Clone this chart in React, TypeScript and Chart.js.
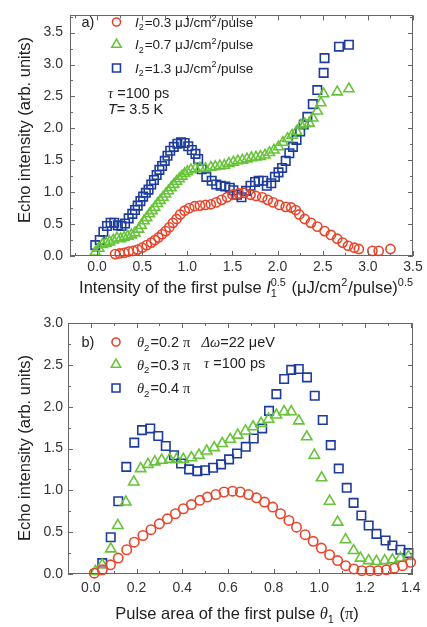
import React, { useEffect, useRef } from 'react';
import { Chart, registerables } from 'chart.js';

Chart.register(...registerables);

const SANS = "'Liberation Sans', Arial, Helvetica, sans-serif";
const SERIF = "'Liberation Serif', 'Times New Roman', serif";
const RED = '#e8462c';
const GREEN = '#67c43a';
const BLUE = '#1d3c9b';
const TEXT = '#222';

// ---------- Panel a: echo intensity vs I1^0.5 ----------
const aRedX = [0.20, 0.25, 0.30, 0.35, 0.40, 0.45, 0.50, 0.55, 0.60, 0.64, 0.68, 0.72, 0.76, 0.80, 0.84, 0.88, 0.92, 0.97, 1.02, 1.08, 1.14, 1.20, 1.26, 1.32, 1.38, 1.44, 1.50, 1.57, 1.63, 1.70, 1.76, 1.83, 1.89, 1.95, 2.02, 2.09, 2.15, 2.20, 2.24, 2.30, 2.37, 2.44, 2.52, 2.59, 2.66, 2.72, 2.78, 2.85, 2.90, 3.05, 3.12, 3.25];
const aRedY = [0.03, 0.04, 0.05, 0.07, 0.08, 0.10, 0.13, 0.17, 0.21, 0.25, 0.29, 0.34, 0.39, 0.45, 0.52, 0.58, 0.65, 0.71, 0.75, 0.78, 0.79, 0.80, 0.81, 0.84, 0.88, 0.92, 0.96, 0.98, 0.99, 0.96, 0.94, 0.92, 0.88, 0.84, 0.80, 0.77, 0.76, 0.72, 0.65, 0.58, 0.52, 0.46, 0.39, 0.33, 0.27, 0.21, 0.16, 0.13, 0.11, 0.08, 0.08, 0.11];

const aGreenX = [-0.02, 0.02, 0.06, 0.10, 0.14, 0.18, 0.22, 0.26, 0.30, 0.34, 0.38, 0.42, 0.46, 0.49, 0.52, 0.55, 0.58, 0.61, 0.64, 0.67, 0.70, 0.73, 0.76, 0.79, 0.82, 0.85, 0.88, 0.91, 0.94, 0.97, 1.00, 1.04, 1.09, 1.14, 1.20, 1.26, 1.31, 1.36, 1.41, 1.46, 1.51, 1.56, 1.61, 1.66, 1.71, 1.76, 1.81, 1.86, 1.91, 1.96, 2.01, 2.06, 2.11, 2.16, 2.21, 2.26, 2.30, 2.35, 2.39, 2.44, 2.48, 2.51, 2.66, 2.79];
const aGreenY = [0.06, 0.12, 0.18, 0.20, 0.22, 0.25, 0.28, 0.27, 0.29, 0.31, 0.33, 0.36, 0.42, 0.48, 0.55, 0.60, 0.66, 0.71, 0.76, 0.82, 0.87, 0.92, 0.97, 1.02, 1.07, 1.12, 1.17, 1.21, 1.25, 1.29, 1.32, 1.35, 1.37, 1.38, 1.37, 1.39, 1.40, 1.41, 1.42, 1.45, 1.47, 1.49, 1.50, 1.52, 1.54, 1.55, 1.56, 1.58, 1.62, 1.66, 1.71, 1.78, 1.84, 1.89, 1.95, 2.05, 2.07, 2.08, 2.16, 2.27, 2.40, 2.54, 2.57, 2.62];

const aBlueX = [-0.02, 0.03, 0.07, 0.11, 0.15, 0.19, 0.23, 0.27, 0.31, 0.35, 0.39, 0.42, 0.45, 0.48, 0.51, 0.54, 0.57, 0.60, 0.63, 0.66, 0.69, 0.72, 0.75, 0.78, 0.81, 0.85, 0.89, 0.93, 0.97, 1.01, 1.05, 1.09, 1.12, 1.16, 1.21, 1.27, 1.32, 1.37, 1.42, 1.47, 1.51, 1.55, 1.60, 1.65, 1.70, 1.75, 1.79, 1.84, 1.88, 1.93, 1.97, 2.01, 2.05, 2.09, 2.13, 2.17, 2.21, 2.25, 2.29, 2.33, 2.39, 2.44, 2.51, 2.52, 2.68, 2.79];
const aBlueY = [0.17, 0.25, 0.38, 0.47, 0.52, 0.52, 0.48, 0.47, 0.51, 0.59, 0.66, 0.72, 0.79, 0.86, 0.93, 0.99, 1.04, 1.12, 1.19, 1.27, 1.35, 1.41, 1.49, 1.57, 1.65, 1.71, 1.76, 1.78, 1.77, 1.72, 1.66, 1.60, 1.52, 1.36, 1.24, 1.18, 1.12, 1.10, 1.09, 1.07, 1.03, 0.96, 0.92, 1.02, 1.10, 1.16, 1.18, 1.18, 1.10, 1.14, 1.24, 1.31, 1.38, 1.49, 1.61, 1.71, 1.82, 1.95, 2.06, 2.18, 2.38, 2.60, 2.87, 3.10, 3.28, 3.31];

const aXTicks = [0, 0.5, 1.0, 1.5, 2.0, 2.5, 3.0, 3.5];
const aYTicks = [0, 0.5, 1.0, 1.5, 2.0, 2.5, 3.0, 3.5];

// ---------- Panel b: echo intensity vs pulse area theta1 ----------
const bRedX = [0.015, 0.05, 0.086, 0.12, 0.157, 0.19, 0.228, 0.263, 0.30, 0.335, 0.37, 0.405, 0.44, 0.477, 0.51, 0.547, 0.583, 0.62, 0.654, 0.69, 0.725, 0.76, 0.796, 0.83, 0.867, 0.90, 0.938, 0.973, 1.009, 1.045, 1.08, 1.115, 1.151, 1.186, 1.222, 1.257, 1.293, 1.328, 1.364, 1.40];
const bRedY = [0.01, 0.05, 0.11, 0.19, 0.29, 0.38, 0.46, 0.53, 0.60, 0.66, 0.72, 0.78, 0.83, 0.88, 0.92, 0.95, 0.98, 0.99, 0.98, 0.95, 0.91, 0.86, 0.80, 0.72, 0.64, 0.56, 0.47, 0.39, 0.31, 0.23, 0.16, 0.10, 0.06, 0.04, 0.04, 0.04, 0.05, 0.07, 0.10, 0.14];

const bGreenX = [0.02, 0.05, 0.087, 0.118, 0.153, 0.188, 0.218, 0.25, 0.28, 0.31, 0.345, 0.375, 0.405, 0.44, 0.473, 0.507, 0.54, 0.575, 0.61, 0.643, 0.677, 0.71, 0.745, 0.778, 0.812, 0.846, 0.877, 0.91, 0.945, 0.978, 1.01, 1.045, 1.08, 1.115, 1.15, 1.18, 1.216, 1.25, 1.286, 1.32, 1.355, 1.39];
const bGreenY = [0.03, 0.11, 0.30, 0.58, 0.86, 1.10, 1.26, 1.31, 1.34, 1.36, 1.37, 1.37, 1.37, 1.39, 1.42, 1.47, 1.51, 1.56, 1.61, 1.66, 1.71, 1.76, 1.80, 1.85, 1.90, 1.94, 1.94, 1.83, 1.64, 1.42, 1.15, 0.87, 0.62, 0.41, 0.28, 0.19, 0.16, 0.15, 0.16, 0.17, 0.19, 0.21];

const bBlueX = [0.05, 0.087, 0.12, 0.155, 0.19, 0.224, 0.26, 0.295, 0.328, 0.364, 0.395, 0.43, 0.466, 0.50, 0.535, 0.57, 0.605, 0.64, 0.678, 0.713, 0.75, 0.78, 0.812, 0.846, 0.877, 0.91, 0.946, 0.98, 1.015, 1.05, 1.085, 1.12, 1.15, 1.184, 1.216, 1.25, 1.29, 1.32, 1.355, 1.39];
const bBlueY = [0.13, 0.44, 0.87, 1.28, 1.57, 1.72, 1.74, 1.65, 1.53, 1.42, 1.32, 1.25, 1.23, 1.24, 1.27, 1.31, 1.37, 1.44, 1.52, 1.62, 1.74, 1.95, 2.15, 2.33, 2.44, 2.45, 2.35, 2.13, 1.84, 1.54, 1.26, 1.03, 0.85, 0.70, 0.58, 0.48, 0.40, 0.34, 0.29, 0.25];

const bXTicks = [0, 0.2, 0.4, 0.6, 0.8, 1.0, 1.2, 1.4];
const bYTicks = [0, 0.5, 1.0, 1.5, 2.0, 2.5, 3.0];

// ---------- helpers ----------
type Seg = { t?: string; it?: boolean; serif?: boolean; sub?: string; sup?: string };

const fontStr = (size: number, it?: boolean, serif?: boolean) =>
  `${it ? 'italic ' : ''}${size}px ${serif ? SERIF : SANS}`;

function drawRich(ctx: CanvasRenderingContext2D, segs: Seg[], x: number, yMid: number, size: number, align: 'left' | 'center') {
  const small = size * 0.66;
  const widths = segs.map((s) => {
    if (s.t !== undefined) {
      ctx.font = fontStr(size, s.it, s.serif);
      return ctx.measureText(s.t).width;
    }
    ctx.font = fontStr(small);
    return Math.max(s.sub ? ctx.measureText(s.sub).width : 0, s.sup ? ctx.measureText(s.sup).width : 0) + 1;
  });
  const total = widths.reduce((a, b) => a + b, 0);
  let cx = align === 'center' ? x - total / 2 : x;
  const base = yMid + size * 0.36;
  ctx.textAlign = 'left';
  ctx.textBaseline = 'alphabetic';
  ctx.fillStyle = TEXT;
  segs.forEach((s, i) => {
    if (s.t !== undefined) {
      ctx.font = fontStr(size, s.it, s.serif);
      ctx.fillText(s.t, cx, base);
    } else {
      ctx.font = fontStr(small);
      if (s.sub) ctx.fillText(s.sub, cx, base + size * 0.26);
      if (s.sup) ctx.fillText(s.sup, cx, base - size * 0.42);
    }
    cx += widths[i];
  });
}

function drawMarker(ctx: CanvasRenderingContext2D, style: string, x: number, y: number, r: number, color: string) {
  ctx.save();
  ctx.strokeStyle = color;
  ctx.lineWidth = 1.6;
  ctx.beginPath();
  if (style === 'circle') {
    ctx.arc(x, y, r, 0, Math.PI * 2);
  } else if (style === 'triangle') {
    let a = 0;
    ctx.moveTo(x + Math.sin(a) * r, y - Math.cos(a) * r);
    a += (2 * Math.PI) / 3;
    ctx.lineTo(x + Math.sin(a) * r, y - Math.cos(a) * r);
    a += (2 * Math.PI) / 3;
    ctx.lineTo(x + Math.sin(a) * r, y - Math.cos(a) * r);
    ctx.closePath();
  } else {
    const h = r * Math.SQRT1_2;
    ctx.rect(x - h, y - h, 2 * h, 2 * h);
  }
  ctx.stroke();
  ctx.restore();
}

const toPoints = (xs: number[], ys: number[]) => xs.map((x, i) => ({ x, y: ys[i] }));

function dataset(label: string, xs: number[], ys: number[], color: string, style: string, r: number) {
  return {
    label,
    data: toPoints(xs, ys),
    showLine: false,
    pointStyle: style,
    pointRadius: r,
    pointBorderWidth: 1.6,
    pointBorderColor: color,
    borderColor: color,
    pointBackgroundColor: 'rgba(0,0,0,0)',
    backgroundColor: 'rgba(0,0,0,0)',
    clip: false,
  };
}

function minorTicks(major: number[], min: number, max: number) {
  const step = major[1] - major[0];
  const out: number[] = [];
  for (let i = -1; i < major.length; i++) {
    const m = (i < 0 ? major[0] - step : major[i]) + step / 2;
    if (m > min && m < max) out.push(m);
  }
  return out;
}

const framePlugin = {
  id: 'frameTicks',
  afterDraw(chart: any) {
    const { ctx, chartArea: ca, scales } = chart;
    const sx = scales.x;
    const sy = scales.y;
    ctx.save();
    ctx.strokeStyle = '#666';
    ctx.lineWidth = 1;
    ctx.strokeRect(Math.round(ca.left) + 0.5, Math.round(ca.top) + 0.5, Math.round(ca.width) - 1, Math.round(ca.height) - 1);
    const xm = sx.ticks.map((t: any) => t.value);
    const ym = sy.ticks.map((t: any) => t.value);
    const drawX = (v: number, len: number) => {
      const p = Math.round(sx.getPixelForValue(v)) + 0.5;
      ctx.beginPath();
      ctx.moveTo(p, ca.bottom);
      ctx.lineTo(p, ca.bottom - len);
      ctx.moveTo(p, ca.top);
      ctx.lineTo(p, ca.top + len);
      ctx.stroke();
    };
    const drawY = (v: number, len: number) => {
      const p = Math.round(sy.getPixelForValue(v)) + 0.5;
      ctx.beginPath();
      ctx.moveTo(ca.left, p);
      ctx.lineTo(ca.left + len, p);
      ctx.moveTo(ca.right, p);
      ctx.lineTo(ca.right - len, p);
      ctx.stroke();
    };
    xm.forEach((v: number) => drawX(v, 5));
    minorTicks(xm, sx.min, sx.max).forEach((v) => drawX(v, 3));
    ym.forEach((v: number) => drawY(v, 5));
    minorTicks(ym, sy.min, sy.max).forEach((v) => drawY(v, 3));
    ctx.restore();
  },
};

function makeConfig(p: {
  datasets: any[];
  xMin: number; xMax: number; yMin: number; yMax: number;
  xTicks: number[]; yTicks: number[];
  padTop: number; padRight: number; yWidth: number; xHeight: number;
  xPad: number; yPad: number;
  overlay: (ctx: CanvasRenderingContext2D) => void;
}) {
  const tickFont = { family: SANS, size: 14 };
  return {
    type: 'scatter' as const,
    data: { datasets: p.datasets },
    options: {
      responsive: false,
      animation: false as const,
      layout: { padding: { left: 0, right: p.padRight, top: p.padTop, bottom: 0 } },
      plugins: { legend: { display: false }, tooltip: { enabled: false }, title: { display: false } },
      scales: {
        x: {
          type: 'linear' as const,
          min: p.xMin,
          max: p.xMax,
          grid: { display: false, drawTicks: false },
          border: { display: false },
          afterBuildTicks: (s: any) => { s.ticks = p.xTicks.map((value) => ({ value })); },
          afterFit: (s: any) => { s.height = p.xHeight; },
          ticks: { padding: p.xPad, color: '#333', font: tickFont, maxRotation: 0, autoSkip: false, callback: (v: any) => Number(v).toFixed(1) },
        },
        y: {
          type: 'linear' as const,
          min: p.yMin,
          max: p.yMax,
          grid: { display: false, drawTicks: false },
          border: { display: false },
          afterBuildTicks: (s: any) => { s.ticks = p.yTicks.map((value) => ({ value })); },
          afterFit: (s: any) => { s.width = p.yWidth; },
          ticks: { padding: p.yPad, color: '#333', font: tickFont, autoSkip: false, callback: (v: any) => Number(v).toFixed(1) },
        },
      },
    },
    plugins: [
      framePlugin,
      { id: 'overlay', afterDraw: (chart: any) => { const c = chart.ctx; c.save(); p.overlay(c); c.restore(); } },
    ],
  };
}

const TITLE = 16.5;

function yTitle(ctx: CanvasRenderingContext2D, x: number, y: number) {
  ctx.save();
  ctx.translate(x, y);
  ctx.rotate(-Math.PI / 2);
  ctx.font = fontStr(TITLE);
  ctx.fillStyle = TEXT;
  ctx.textAlign = 'center';
  ctx.textBaseline = 'middle';
  ctx.fillText('Echo intensity (arb. units)', 0, 0);
  ctx.restore();
}

export default function App() {
  const refA = useRef<HTMLCanvasElement>(null);
  const refB = useRef<HTMLCanvasElement>(null);

  useEffect(() => {
    const S = 13.5;
    const SB = 14.5;
    const cfgA = makeConfig({
      datasets: [
        dataset('I2=0.3', aRedX, aRedY, RED, 'circle', 4.6),
        dataset('I2=0.7', aGreenX, aGreenY, GREEN, 'triangle', 5.8),
        dataset('I2=1.3', aBlueX, aBlueY, BLUE, 'rect', 6.0),
      ],
      xMin: -0.3, xMax: 3.5, yMin: 0, yMax: 3.77,
      xTicks: aXTicks, yTicks: aYTicks,
      padTop: 4, padRight: 14, yWidth: 70, xHeight: 49,
      xPad: 3, yPad: 7,
      overlay: (ctx) => {
        drawRich(ctx, [{ t: 'a)' }], 81.5, 22, 14.5, 'left');
        const rows: [string, string, string, number][] = [
          ['circle', RED, '0.3', 22],
          ['triangle', GREEN, '0.7', 44.5],
          ['rect', BLUE, '1.3', 68],
        ];
        rows.forEach(([st, col, val, y]) => {
          drawMarker(ctx, st, 116.5, y, st === 'circle' ? 4 : st === 'triangle' ? 5.4 : 5.6, col);
          drawRich(ctx, [{ t: 'I', it: true }, { sub: '2' }, { t: `=${val} μJ/cm` }, { sup: '2' }, { t: '/pulse' }], 135, y, S, 'left');
        });
        drawRich(ctx, [{ t: 'τ', it: true, serif: true }, { t: ' =100 ps' }], 108, 93, 14.5, 'left');
        drawRich(ctx, [{ t: 'T', it: true }, { t: '= 3.5 K' }], 108, 109, 14.5, 'left');
        yTitle(ctx, 25, 130);
        drawRich(ctx, [
          { t: 'Intensity of the first pulse ' }, { t: 'I', it: true }, { sub: '1', sup: '0.5' },
          { t: ' (μJ/cm' }, { sup: '2' }, { t: '/pulse)' }, { sup: '0.5' },
        ], 246.5, 287, TITLE, 'center');
      },
    });
    const cfgB = makeConfig({
      datasets: [
        dataset('θ2=0.2π', bRedX, bRedY, RED, 'circle', 4.7),
        dataset('θ2=0.3π', bGreenX, bGreenY, GREEN, 'triangle', 6.0),
        dataset('θ2=0.4π', bBlueX, bBlueY, BLUE, 'rect', 6.0),
      ],
      xMin: -0.1, xMax: 1.41, yMin: 0, yMax: 3.0,
      xTicks: bXTicks, yTicks: bYTicks,
      padTop: 18, padRight: 14, yWidth: 68, xHeight: 53,
      xPad: 6, yPad: 5,
      overlay: (ctx) => {
        drawRich(ctx, [{ t: 'b)' }], 81.5, 37, 14.5, 'left');
        const rows: [string, string, string, number][] = [
          ['circle', RED, '0.2', 37],
          ['triangle', GREEN, '0.3', 59.5],
          ['rect', BLUE, '0.4', 83],
        ];
        rows.forEach(([st, col, val, y]) => {
          drawMarker(ctx, st, 116, y, st === 'circle' ? 4 : st === 'triangle' ? 5.4 : 5.6, col);
          drawRich(ctx, [{ t: 'θ', it: true, serif: true }, { sub: '2' }, { t: `=${val} ` }, { t: 'π', serif: true }], 137, y, SB, 'left');
        });
        drawRich(ctx, [{ t: 'Δω', it: true, serif: true }, { t: '=22 μeV' }], 201.5, 37, SB, 'left');
        drawRich(ctx, [{ t: 'τ', it: true, serif: true }, { t: ' =100 ps' }], 204, 58, SB, 'left');
        yTitle(ctx, 25, 143);
        drawRich(ctx, [
          { t: 'Pulse area of the first pulse ' }, { t: 'θ', it: true, serif: true }, { sub: '1' },
          { t: ' (' }, { t: 'π', serif: true }, { t: ')' },
        ], 237, 308, TITLE, 'center');
      },
    });
    const ca = new Chart(refA.current as HTMLCanvasElement, cfgA as any);
    const cb = new Chart(refB.current as HTMLCanvasElement, cfgB as any);
    return () => {
      ca.destroy();
      cb.destroy();
    };
  }, []);

  return (
    <div style={{ position: 'absolute', left: 0, top: 0, width: 427, height: 627, background: '#fff' }}>
      <canvas ref={refA} width={427} height={305} style={{ position: 'absolute', left: 0, top: 0, width: 427, height: 305 }} />
      <canvas ref={refB} width={427} height={322} style={{ position: 'absolute', left: 0, top: 305, width: 427, height: 322 }} />
    </div>
  );
}
